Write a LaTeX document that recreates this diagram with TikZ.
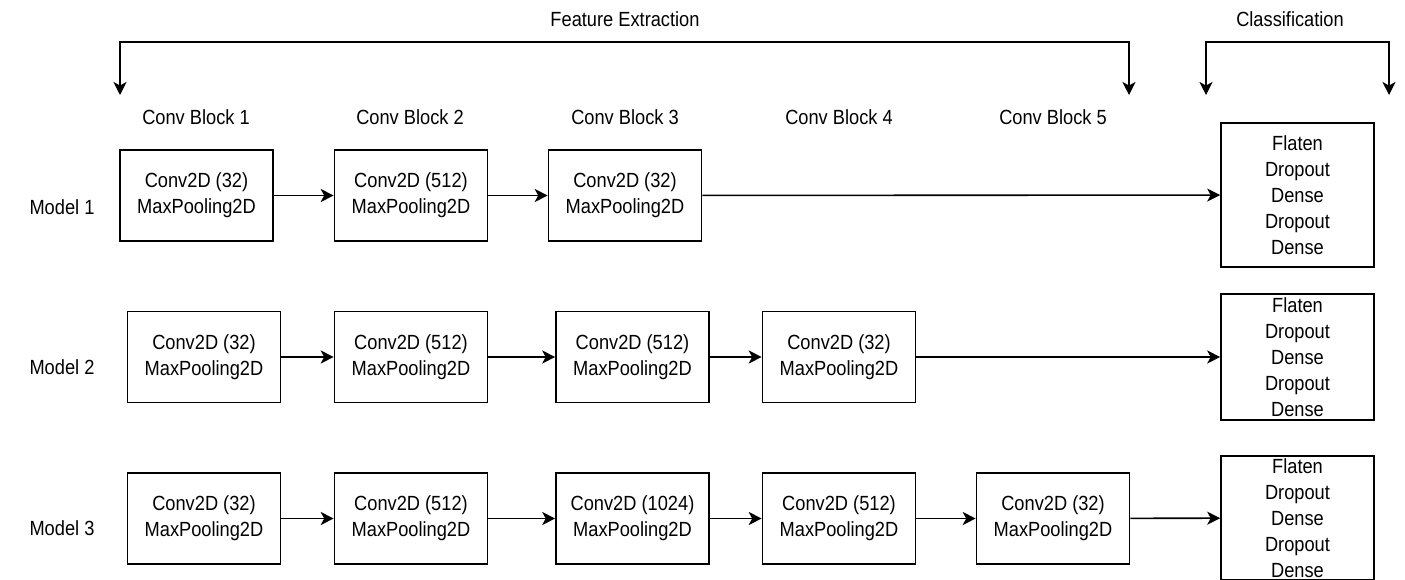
\documentclass[tikz,border=0pt]{standalone}
\usepackage{fontspec}
\setmainfont{Liberation Sans}[FakeStretch=0.89]
\usetikzlibrary{arrows.meta,positioning}

\begin{document}
\begin{tikzpicture}[
  x=1pt, y=-1pt,
  font=\fontsize{20.5}{26}\selectfont,
  block/.style={rectangle, draw=black, line width=1.6pt, fill=white,
                minimum width=153pt, minimum height=91pt, align=center, inner sep=0pt},
  head/.style={rectangle, draw=black, line width=1.6pt, fill=white,
               minimum width=153pt, align=center, inner sep=0pt},
  lab/.style={inner sep=0pt},
  arr/.style={-{Stealth[length=13pt,width=13pt,inset=3.5pt]}, line width=1.6pt, black}]

\useasboundingbox (0,0) rectangle (1405,580);

% stage headers with their brackets
\node[lab] (fxt) at (625,19) {Feature Extraction};
\node[lab] (clt) at (1290,19) {Classification};
\coordinate (fxmid) at (625,42);
\coordinate (fxl) at (120,95);
\coordinate (fxr) at (1129,95);
\coordinate (clmid) at (1297,42);
\coordinate (cll) at (1206,95);
\coordinate (clr) at (1389,95);
\draw[arr] (fxmid) -| (fxl);
\draw[arr] (fxmid) -| (fxr);
\draw[arr] (clmid) -| (cll);
\draw[arr] (clmid) -| (clr);

% column and row labels
\node[lab] (cb1) at (196,117) {Conv Block 1};
\node[lab] (cb2) at (410,117) {Conv Block 2};
\node[lab] (cb3) at (625,117) {Conv Block 3};
\node[lab] (cb4) at (839,117) {Conv Block 4};
\node[lab] (cb5) at (1053,117) {Conv Block 5};
\node[lab] (m1) at (62,207) {Model 1};
\node[lab] (m2) at (62,367) {Model 2};
\node[lab] (m3) at (62,528) {Model 3};

% model 1
\node[block] (a1) at (196.5,195.5) {Conv2D (32)\\MaxPooling2D};
\node[block] (a2) at (411,195.5) {Conv2D (512)\\MaxPooling2D};
\node[block] (a3) at (625,195.5) {Conv2D (32)\\MaxPooling2D};
\node[head, minimum height=144pt] (ha) at (1297.5,195) {Flaten\\Dropout\\Dense\\Dropout\\Dense};

% model 2
\node[block] (b1) at (204,357) {Conv2D (32)\\MaxPooling2D};
\node[block] (b2) at (411,357) {Conv2D (512)\\MaxPooling2D};
\node[block] (b3) at (632.5,357) {Conv2D (512)\\MaxPooling2D};
\node[block] (b4) at (839,357) {Conv2D (32)\\MaxPooling2D};
\node[head, minimum height=126pt] (hb) at (1297.5,357) {Flaten\\Dropout\\Dense\\Dropout\\Dense};

% model 3
\node[block] (c1) at (204,518.5) {Conv2D (32)\\MaxPooling2D};
\node[block] (c2) at (411,518.5) {Conv2D (512)\\MaxPooling2D};
\node[block] (c3) at (632.5,518.5) {Conv2D (1024)\\MaxPooling2D};
\node[block] (c4) at (839,518.5) {Conv2D (512)\\MaxPooling2D};
\node[block] (c5) at (1053,518.5) {Conv2D (32)\\MaxPooling2D};
\node[head, minimum height=124pt] (hc) at (1297.5,518) {Flaten\\Dropout\\Dense\\Dropout\\Dense};

\draw[arr] (a1) -- (a2);
\draw[arr] (a2) -- (a3);
\draw[arr] (a3) -- (ha);
\draw[arr] (b1) -- (b2);
\draw[arr] (b2) -- (b3);
\draw[arr] (b3) -- (b4);
\draw[arr] (b4) -- (hb);
\draw[arr] (c1) -- (c2);
\draw[arr] (c2) -- (c3);
\draw[arr] (c3) -- (c4);
\draw[arr] (c4) -- (c5);
\draw[arr] (c5) -- (hc);
\end{tikzpicture}
\end{document}
